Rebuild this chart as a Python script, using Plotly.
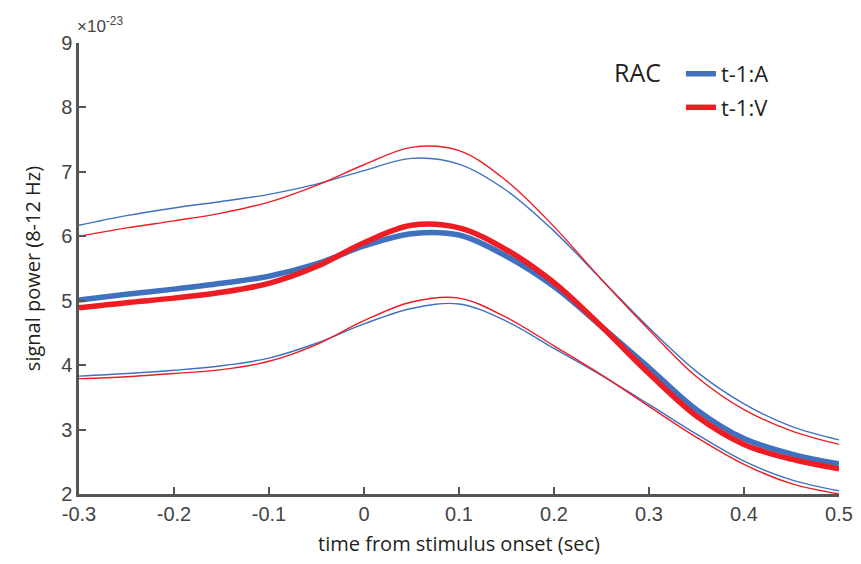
import plotly.graph_objects as go

x = [-0.3, -0.25, -0.2, -0.15, -0.1, -0.05, 0.0, 0.05, 0.1, 0.15, 0.2, 0.25, 0.3, 0.35, 0.4, 0.45, 0.5]

blue_mean = [5.01, 5.10, 5.18, 5.27, 5.38, 5.57, 5.85, 6.04, 6.02, 5.69, 5.22, 4.60, 3.96, 3.31, 2.86, 2.62, 2.47]
red_mean  = [4.89, 4.97, 5.04, 5.13, 5.27, 5.53, 5.90, 6.17, 6.13, 5.79, 5.28, 4.60, 3.87, 3.21, 2.77, 2.54, 2.39]
blue_up   = [6.17, 6.32, 6.44, 6.54, 6.65, 6.81, 7.02, 7.21, 7.12, 6.71, 6.08, 5.33, 4.58, 3.90, 3.40, 3.05, 2.84]
red_up    = [6.00, 6.13, 6.24, 6.36, 6.53, 6.79, 7.11, 7.38, 7.33, 6.86, 6.15, 5.33, 4.55, 3.82, 3.31, 2.98, 2.77]
blue_lo   = [3.83, 3.87, 3.92, 3.99, 4.11, 4.34, 4.64, 4.88, 4.95, 4.68, 4.26, 3.84, 3.39, 2.93, 2.51, 2.22, 2.05]
red_lo    = [3.79, 3.82, 3.87, 3.93, 4.06, 4.32, 4.69, 4.98, 5.04, 4.74, 4.30, 3.85, 3.36, 2.88, 2.46, 2.16, 2.00]

xticks = [-0.3, -0.2, -0.1, 0, 0.1, 0.2, 0.3, 0.4, 0.5]
xtick_text = ["-0.3", "-0.2", "-0.1", "0", "0.1", "0.2", "0.3", "0.4", "0.5"]
yticks = [2, 3, 4, 5, 6, 7, 8, 9]

BLUE = "#4071BF"
RED = "#EE1D24"
TXT = "#231F20"

fig = go.Figure()
for ys, c in [(blue_up, BLUE), (red_up, RED), (blue_lo, BLUE), (red_lo, RED)]:
    fig.add_trace(go.Scatter(x=x, y=ys, mode="lines", line=dict(color=c, width=1.4, shape="spline"),
                             showlegend=False, hoverinfo="skip"))
fig.add_trace(go.Scatter(x=x, y=blue_mean, mode="lines", name="t-1:A", legendgroup="a",
                         line=dict(color=BLUE, width=5.5, shape="spline")))
fig.add_trace(go.Scatter(x=x, y=red_mean, mode="lines", name="t-1:V", legendgroup="v",
                         line=dict(color=RED, width=5.5, shape="spline")))

axis_common = dict(showgrid=False, zeroline=False, showline=True, linecolor="#555555", linewidth=2.5,
                   ticks="inside", ticklen=7, tickwidth=2, tickcolor="#555555", automargin=False,
                   tickfont=dict(family="Liberation Sans, Arial", size=20, color="#444444"))

fig.update_xaxes(range=[-0.3, 0.5], tickvals=xticks, ticktext=xtick_text,
                 title=dict(text="time from stimulus onset (sec)", font=dict(family="Open Sans", size=20, color=TXT), standoff=14),
                 **axis_common)
fig.update_yaxes(range=[2, 9], tickvals=yticks,
                 title=dict(text="signal power (8-12 Hz)", font=dict(family="Open Sans", size=20, color=TXT), standoff=16),
                 **axis_common)

fig.add_annotation(x=0, y=1, xref="paper", yref="paper", text="×10<sup>-23</sup>", showarrow=False,
                   xanchor="left", yanchor="bottom", xshift=-4, yshift=5,
                   font=dict(family="Liberation Sans, Arial", size=17, color="#444444"))
fig.add_annotation(x=0.701, y=0.936, xref="paper", yref="paper", text="RAC", showarrow=False,
                   xanchor="left", yanchor="middle",
                   font=dict(family="Open Sans", size=25, color=TXT))

fig.update_layout(
    width=861, height=564, plot_bgcolor="white", paper_bgcolor="white",
    margin=dict(l=71, r=30, t=35, b=77.5),
    legend=dict(x=0.792, y=0.978, xanchor="left", yanchor="top", bgcolor="rgba(0,0,0,0)",
                font=dict(family="Open Sans", size=22, color=TXT), tracegroupgap=2,
                itemwidth=30),
    showlegend=True,
)

fig.write_html("out.html")
